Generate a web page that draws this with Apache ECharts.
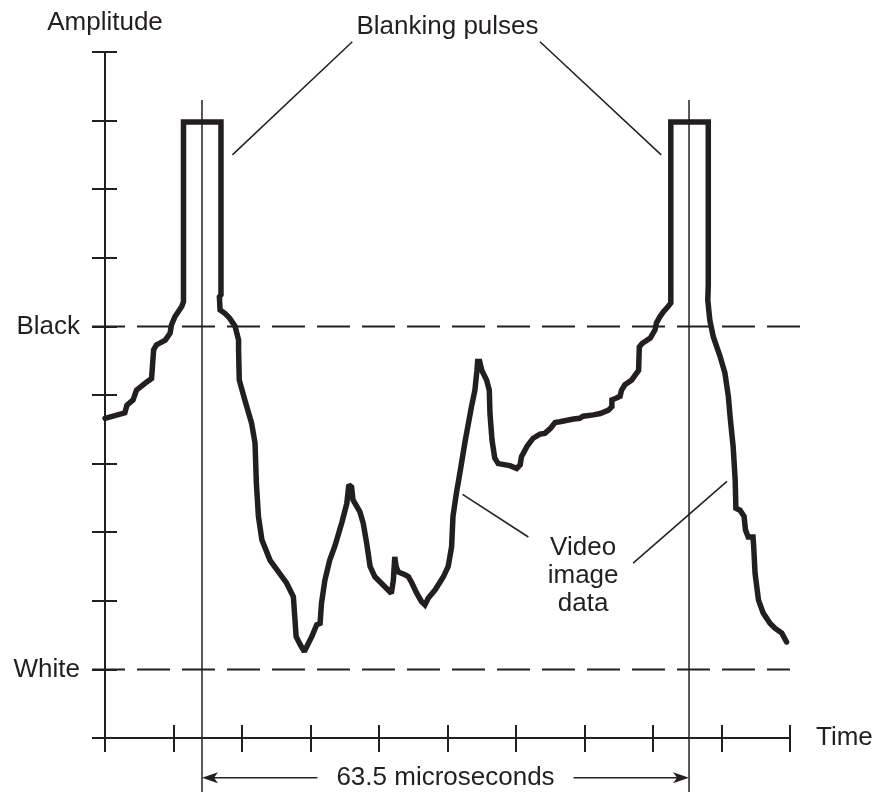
<!DOCTYPE html>
<html>
<head>
<meta charset="utf-8">
<script src="https://cdn.jsdelivr.net/npm/echarts@6/dist/echarts.min.js"></script>
<style>
html,body{margin:0;padding:0;background:#fff;}
#chart{width:877px;height:792px;}
</style>
</head>
<body>
<div id="chart"></div>
<script>
const INK = '#231f20';
const FONT = '"Liberation Sans", Arial, Helvetica, sans-serif';

// ---- data (axis units: time 0..10, amplitude 0..10) ----
const timeRange = [0, 10];
const amplitudeRange = [0, 10];
const levelNames = ['White', 'Black'];
const levelValues = [1, 6];
const levelLineExtents = [[-0.19, 10.0], [-0.19, 10.15]];
const lineStartTimes = [1.416, 8.526];
const lineMarkerRange = [-0.8, 9.3];
const spanLabel = '63.5 microseconds';
const spanLevel = -0.58;
const annotationTexts = ['Blanking pulses', 'Video\nimage\ndata'];
const annotationAnchors = [[5.0, 10.36], [6.98, 2.37]];
const leaderLines = [
  [3.61, 10.15, 1.86, 8.50],
  [6.35, 10.15, 8.12, 8.50],
  [5.22, 3.55, 6.18, 2.93],
  [7.71, 2.55, 9.08, 3.74]
];
const videoSignal = [
  [0,4.66],[0.29,4.74],[0.32,4.85],[0.41,4.93],[0.46,5.07],[0.61,5.19],[0.68,5.24],[0.71,5.66],[0.75,5.73],[0.88,5.80],[0.95,5.90],[0.97,6.02],[1.02,6.14],[1.12,6.29],[1.146,6.36],
  [1.146,8.98],[1.693,8.98],[1.693,6.46],
  [1.67,6.43],[1.68,6.24],[1.75,6.19],[1.82,6.12],[1.90,6.00],[1.95,5.80],[1.95,5.66],[1.96,5.22],[2.04,4.93],[2.14,4.59],[2.19,4.30],[2.21,3.71],[2.24,3.23],[2.29,2.89],[2.41,2.59],[2.65,2.26],[2.75,2.06],[2.77,1.77],[2.79,1.48],[2.85,1.36],[2.91,1.26],
  [3.02,1.48],[3.09,1.65],[3.14,1.67],[3.16,1.96],[3.21,2.30],[3.28,2.59],[3.36,2.81],[3.46,3.15],[3.53,3.42],[3.56,3.69],[3.60,3.66],[3.62,3.47],[3.72,3.30],[3.77,3.13],[3.82,2.84],[3.87,2.50],[3.94,2.35],[4.06,2.23],[4.18,2.11],[4.21,2.30],[4.23,2.64],[4.25,2.50],[4.28,2.42],[4.38,2.38],[4.43,2.35],[4.48,2.26],[4.55,2.11],[4.62,1.99],[4.67,1.94],[4.72,2.04],[4.82,2.16],[4.94,2.35],[5.01,2.50],[5.06,2.79],[5.08,3.23],[5.13,3.57],[5.18,3.86],[5.26,4.34],[5.35,4.83],[5.40,5.07],[5.43,5.36],[5.44,5.49],[5.47,5.49],[5.50,5.36],[5.57,5.22],[5.61,5.07],[5.62,4.73],[5.65,4.34],[5.69,4.08],[5.74,4.00],[5.91,3.97],[6.01,3.93],[6.06,3.98],[6.08,4.10],[6.16,4.25],[6.25,4.37],[6.35,4.43],[6.42,4.44],[6.50,4.51],[6.57,4.60],[6.64,4.61],[6.84,4.65],[6.93,4.66],[6.98,4.69],[7.13,4.71],[7.23,4.73],[7.35,4.78],[7.40,4.83],[7.40,4.93],[7.45,4.95],[7.52,4.98],[7.54,5.07],[7.59,5.15],[7.69,5.22],[7.74,5.29],[7.79,5.36],[7.80,5.70],[7.84,5.75],[7.96,5.83],[8.03,5.95],[8.05,6.05],[8.10,6.14],[8.15,6.21],[8.22,6.29],[8.26,6.34],
  [8.26,8.98],[8.807,8.98],[8.807,6.6],
  [8.80,6.38],[8.83,6.09],[8.88,5.85],[8.98,5.56],[9.05,5.32],[9.10,4.98],[9.13,4.64],[9.17,4.25],[9.20,3.76],[9.21,3.35],[9.27,3.32],[9.33,3.23],[9.35,3.03],[9.39,2.93],[9.46,2.93],[9.47,2.79],[9.49,2.40],[9.54,2.01],[9.61,1.82],[9.71,1.67],[9.78,1.60],[9.88,1.53],[9.95,1.40]
];

// ---- chart ----
const chart = echarts.init(document.getElementById('chart'), null, {renderer: 'canvas'});
const textBase = {color: INK, fontSize: 26, fontFamily: FONT};
const tickStyle = {color: INK, width: 2};

function baseAxis(extra) {
  return Object.assign({
    type: 'value', min: 0, max: 10, interval: 1,
    splitLine: {show: false}, axisLabel: {show: false}
  }, extra);
}

const option = {
  animation: false,
  backgroundColor: '#fff',
  grid: {left: 105, right: 87, top: 52, bottom: 54, containLabel: false, outerBoundsMode: 'none'},
  xAxis: [
    baseAxis({min: timeRange[0], max: timeRange[1], position: 'bottom', name: 'Time', nameLocation: 'end', nameGap: 26,
      nameTextStyle: Object.assign({verticalAlign: 'middle'}, textBase),
      axisLine: {onZero: false, lineStyle: tickStyle},
      axisTick: {show: true, length: 14, lineStyle: tickStyle}}),
    baseAxis({min: timeRange[0], max: timeRange[1], position: 'bottom',
      axisLine: {show: false, onZero: false},
      axisTick: {show: true, inside: true, length: 13, lineStyle: tickStyle}})
  ],
  yAxis: [
    baseAxis({min: amplitudeRange[0], max: amplitudeRange[1], position: 'left', name: 'Amplitude', nameLocation: 'end', nameGap: 16,
      nameTextStyle: textBase,
      axisLine: {onZero: false, lineStyle: tickStyle},
      axisTick: {show: true, length: 13, lineStyle: tickStyle},
      axisLabel: Object.assign({show: true, margin: 25, formatter: function (v) {
        const i = levelValues.indexOf(v);
        return i >= 0 ? levelNames[i] : '';
      }}, textBase)}),
    baseAxis({min: amplitudeRange[0], max: amplitudeRange[1], position: 'left',
      axisLine: {show: false, onZero: false},
      axisTick: {show: true, inside: true, length: 12, lineStyle: tickStyle}})
  ],
  series: [
    { // dashed level lines
      type: 'custom', z: 1, silent: true,
      data: levelValues.map((v, i) => [levelLineExtents[i][0], levelLineExtents[i][1], v]),
      renderItem: function (params, api) {
        const a = api.coord([api.value(0), api.value(2)]);
        const b = api.coord([api.value(1), api.value(2)]);
        return {type: 'line', shape: {x1: a[0], y1: a[1], x2: b[0], y2: b[1]},
          style: {stroke: INK, lineWidth: 2, lineDash: [33, 12]}};
      }
    },
    { // vertical line-start markers
      type: 'custom', z: 1, silent: true,
      data: lineStartTimes.map(t => [t, lineMarkerRange[0], lineMarkerRange[1]]),
      renderItem: function (params, api) {
        const a = api.coord([api.value(0), api.value(1)]);
        const b = api.coord([api.value(0), api.value(2)]);
        return {type: 'line', shape: {x1: a[0], y1: a[1], x2: b[0], y2: b[1]},
          style: {stroke: INK, lineWidth: 1.5}};
      }
    },
    { // span arrow
      type: 'custom', z: 2, silent: true,
      data: [[lineStartTimes[0], lineStartTimes[1], spanLevel]],
      renderItem: function (params, api) {
        const a = api.coord([api.value(0), api.value(2)]);
        const b = api.coord([api.value(1), api.value(2)]);
        const L = 16, W = 5.5;
        return {type: 'group', children: [
          {type: 'line', shape: {x1: a[0] + 4, y1: a[1], x2: b[0] - 4, y2: b[1]}, style: {stroke: INK, lineWidth: 1.5}},
          {type: 'polygon', shape: {points: [[a[0], a[1]], [a[0] + L, a[1] - W], [a[0] + L - 4, a[1]], [a[0] + L, a[1] + W]]}, style: {fill: INK}},
          {type: 'polygon', shape: {points: [[b[0], b[1]], [b[0] - L, b[1] - W], [b[0] - L + 4, b[1]], [b[0] - L, b[1] + W]]}, style: {fill: INK}},
          {type: 'text', x: (a[0] + b[0]) / 2, y: a[1], style: {text: spanLabel, fill: INK, fontSize: 26, fontFamily: FONT,
            align: 'center', verticalAlign: 'middle', backgroundColor: '#fff', padding: [0, 19]}}
        ]};
      }
    },
    { // leader lines
      type: 'custom', z: 2, silent: true,
      data: leaderLines,
      renderItem: function (params, api) {
        const a = api.coord([api.value(0), api.value(1)]);
        const b = api.coord([api.value(2), api.value(3)]);
        return {type: 'line', shape: {x1: a[0], y1: a[1], x2: b[0], y2: b[1]},
          style: {stroke: INK, lineWidth: 1.5}};
      }
    },
    { // annotation texts
      type: 'custom', z: 2, silent: true,
      data: annotationAnchors.map((p, i) => [p[0], p[1], i]),
      renderItem: function (params, api) {
        const a = api.coord([api.value(0), api.value(1)]);
        return {type: 'text', x: a[0], y: a[1], style: {text: annotationTexts[api.value(2)], fill: INK, fontSize: 26,
          fontFamily: FONT, align: 'center', verticalAlign: 'middle', lineHeight: 28}};
      }
    },
    { // video signal with blanking pulses
      type: 'line', z: 3, silent: true,
      data: videoSignal,
      showSymbol: false, symbol: 'none', clip: false,
      lineStyle: {color: INK, width: 5.5, join: 'miter', miterLimit: 2, cap: 'round'}
    }
  ]
};
chart.setOption(option);
</script>
</body>
</html>
